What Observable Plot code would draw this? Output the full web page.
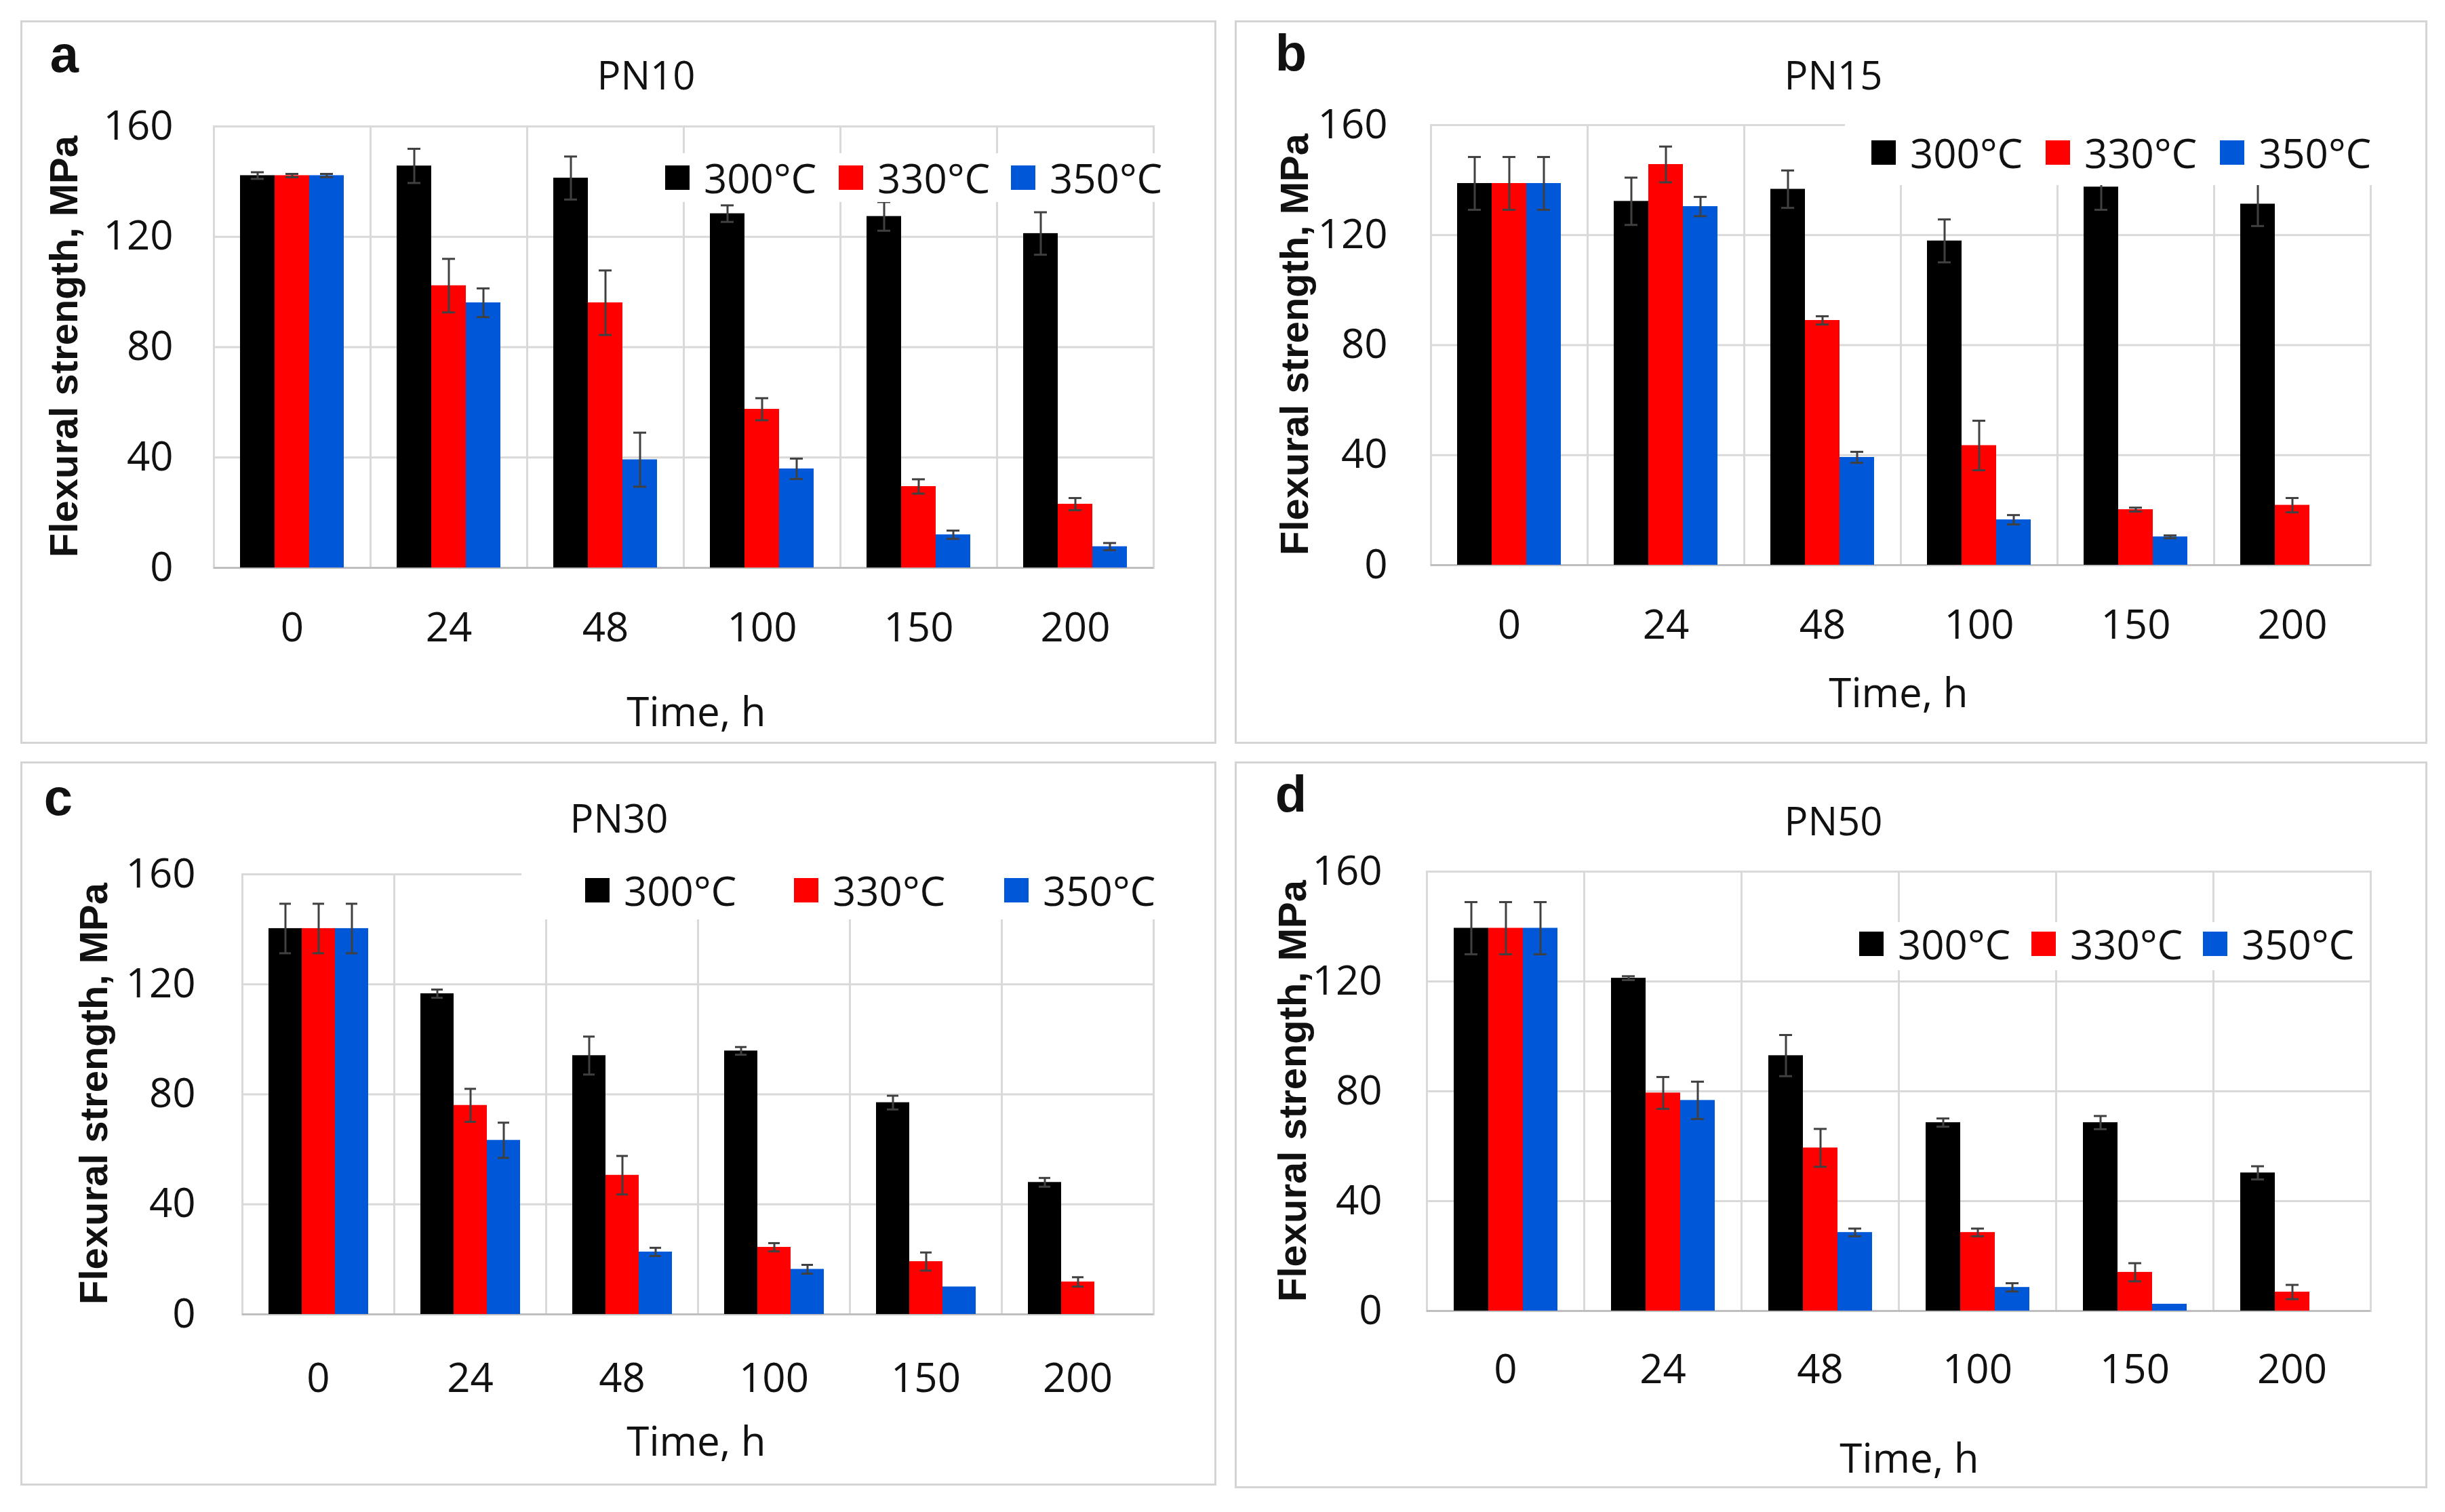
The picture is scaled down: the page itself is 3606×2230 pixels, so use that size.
<!DOCTYPE html>
<html>
<head>
<meta charset="utf-8">
<script src="https://cdn.jsdelivr.net/npm/d3@7"></script>
<script src="https://cdn.jsdelivr.net/npm/@observablehq/plot@0.6"></script>
<style>
  body { margin: 0; background: #fff; }
  #root { position: relative; width: 3606px; height: 2230px; background: #fff; overflow: hidden;
          font-family: "Open Sans", sans-serif; color: #111; }
  .panel { position: absolute; border: 3px solid #d4d4d4; box-sizing: border-box; }
  .abs { position: absolute; white-space: nowrap; line-height: 1; }
  .ctr { transform: translate(-50%, -50%); }
  .letter { font-family: "Liberation Sans", Arial, sans-serif; font-weight: bold; font-size: 76px; }
  .title { font-size: 58px; }
  .time { font-size: 60px; }
  .ylab { font-family: "Liberation Sans", Arial, sans-serif; font-weight: bold; font-size: 58px;
          transform: translate(-50%, -50%) rotate(-90deg); }
  .lgbox { position: absolute; background: #fff; }
  .sq { position: absolute; width: 36px; height: 36px; }
  .lgt { position: absolute; font-size: 60px; line-height: 1; white-space: nowrap; transform: translateY(-50%); }
  svg.plotsvg { position: absolute; max-width: none; }
</style>
</head>
<body>
<div id="root"></div>
<script>
// ---------- data ----------
const times = ["0", "24", "48", "100", "150", "200"];
const temps = ["300°C", "330°C", "350°C"];
const yTicks = [0, 40, 80, 120, 160];
const colors = ["#000000", "#ff0000", "#0058d8"];

// PN10
const pn10_300 = [142.2, 145.7, 141.3, 128.4, 127.4, 121.2];
const pn10_300_err = [1.2, 6.2, 7.8, 3.0, 5.2, 7.7];
const pn10_330 = [142.2, 102.3, 96.1, 57.5, 29.5, 23.1];
const pn10_330_err = [0.6, 9.7, 11.7, 4.0, 2.6, 2.2];
const pn10_350 = [142.2, 96.1, 39.2, 35.9, 12.0, 7.7];
const pn10_350_err = [0.6, 5.2, 9.8, 3.7, 1.5, 1.3];

// PN15
const pn15_300 = [138.8, 132.3, 136.7, 117.9, 137.5, 131.3];
const pn15_300_err = [9.6, 8.6, 6.8, 7.8, 8.3, 8.0];
const pn15_330 = [138.8, 145.7, 89.0, 43.5, 20.2, 21.8];
const pn15_330_err = [9.6, 6.5, 1.5, 9.0, 0.7, 2.6];
const pn15_350 = [138.8, 130.4, 39.2, 16.5, 10.3, null];
const pn15_350_err = [9.6, 3.5, 2.0, 1.7, 0.5, null];

// PN30
const pn30_300 = [140.3, 116.6, 94.1, 95.8, 77.0, 48.0];
const pn30_300_err = [9.0, 1.5, 6.9, 1.4, 2.5, 1.6];
const pn30_330 = [140.3, 76.0, 50.6, 24.4, 19.2, 11.8];
const pn30_330_err = [9.0, 6.0, 7.0, 1.5, 3.3, 1.7];
const pn30_350 = [140.3, 63.3, 22.7, 16.4, 10.0, null];
const pn30_350_err = [9.0, 6.4, 1.5, 1.6, 0, null];

// PN50
const pn50_300 = [139.4, 121.2, 93.0, 68.6, 68.6, 50.3];
const pn50_300_err = [9.5, 0.7, 7.5, 1.5, 2.4, 2.4];
const pn50_330 = [139.4, 79.4, 59.4, 28.6, 14.1, 6.9];
const pn50_330_err = [9.5, 5.8, 6.9, 1.4, 3.3, 2.6];
const pn50_350 = [139.4, 76.7, 28.6, 8.6, 2.5, null];
const pn50_350_err = [9.5, 6.8, 1.4, 1.5, 0, null];

// ---------- layout ----------
const panels = [
  { letter: "a", title: "PN10",
    series: [[pn10_300, pn10_300_err], [pn10_330, pn10_330_err], [pn10_350, pn10_350_err]],
    box: [30, 30, 1794, 1097], plot: [312, 186, 1703, 837],
    letterPos: [95, 80], titlePos: [953, 110], ylabPos: [94, 511], timePos: [1027, 1048],
    tickPad: 60, xPad: 66,
    legendSq: [981, 1237, 1491], legendY: 262, legendBox: [962, 226, 1722, 298] },
  { letter: "b", title: "PN15",
    series: [[pn15_300, pn15_300_err], [pn15_330, pn15_330_err], [pn15_350, pn15_350_err]],
    box: [1821, 30, 3580, 1097], plot: [2109, 184, 3497, 833],
    letterPos: [1904, 78], titlePos: [2704, 110], ylabPos: [1909, 508], timePos: [2800, 1020],
    tickPad: 64, xPad: 66,
    legendSq: [2760, 3017, 3274], legendY: 225, legendBox: [2721, 176, 3502, 273] },
  { letter: "c", title: "PN30",
    series: [[pn30_300, pn30_300_err], [pn30_330, pn30_330_err], [pn30_350, pn30_350_err]],
    box: [30, 1123, 1794, 2191], plot: [354, 1289, 1703, 1938],
    letterPos: [86, 1176], titlePos: [913, 1206], ylabPos: [138, 1613], timePos: [1027, 2124],
    tickPad: 69, xPad: 72,
    legendSq: [863, 1171, 1481], legendY: 1313, legendBox: [769, 1282, 1708, 1356] },
  { letter: "d", title: "PN50",
    series: [[pn50_300, pn50_300_err], [pn50_330, pn50_330_err], [pn50_350, pn50_350_err]],
    box: [1821, 1123, 3580, 2195], plot: [2102, 1285, 3497, 1933],
    letterPos: [1904, 1171], titlePos: [2704, 1210], ylabPos: [1906, 1609], timePos: [2816, 2149],
    tickPad: 66, xPad: 64,
    legendSq: [2742, 2996, 3249], legendY: 1392, legendBox: [2721, 1360, 3490, 1431] }
];

const root = document.getElementById("root");

function addDiv(cls, text, x, y, extraStyle) {
  const d = document.createElement("div");
  d.className = cls;
  if (text != null) d.textContent = text;
  d.style.left = x + "px";
  d.style.top = y + "px";
  if (extraStyle) Object.assign(d.style, extraStyle);
  root.appendChild(d);
  return d;
}

panels.forEach(p => {
  const [bl, bt, br, bb] = p.box;
  addDiv("panel", null, bl, bt, { width: (br - bl) + "px", height: (bb - bt) + "px" });

  const [L, T, R, B] = p.plot;
  const ml = 200, mr = 30, mt = 30, mb = 170;

  const data = [];
  p.series.forEach(([vals, errs], k) => {
    vals.forEach((v, i) => {
      if (v != null) data.push({ time: times[i], temp: temps[k], v, e: errs[i] || 0 });
    });
  });
  const errData = data.filter(d => d.e > 0);

  const svg = Plot.plot({
    width: R - L + ml + mr,
    height: B - T + mt + mb,
    marginLeft: ml, marginRight: mr, marginTop: mt, marginBottom: mb,
    style: { fontFamily: '"Open Sans", sans-serif', fontSize: "60px", color: "#111",
             background: "transparent", overflow: "visible" },
    fx: { domain: times, padding: 0, label: null, tickSize: 0, tickPadding: p.xPad, axis: "bottom" },
    x: { domain: temps, paddingInner: 0, paddingOuter: 0.75, axis: null },
    y: { domain: [0, 160], ticks: yTicks, label: null, tickSize: 0, tickPadding: p.tickPad },
    color: { domain: temps, range: colors },
    marks: [
      Plot.ruleY(yTicks, { stroke: "#d9d9d9", strokeWidth: 3 }),
      Plot.frame({ stroke: "#d9d9d9", strokeWidth: 3 }),
      Plot.ruleY([0], { stroke: "#bfbfbf", strokeWidth: 3 }),
      Plot.barY(data, { fx: "time", x: "temp", y: "v", fill: "temp" }),
      Plot.ruleX(errData, { fx: "time", x: "temp", y1: d => d.v - d.e, y2: d => d.v + d.e,
                            stroke: "#404040", strokeWidth: 3 }),
      Plot.tickY(errData, { fx: "time", x: "temp", y: d => d.v + d.e, stroke: "#404040",
                            strokeWidth: 3, insetLeft: 16, insetRight: 16 }),
      Plot.tickY(errData, { fx: "time", x: "temp", y: d => d.v - d.e, stroke: "#404040",
                            strokeWidth: 3, insetLeft: 16, insetRight: 16 })
    ]
  });
  svg.classList.add("plotsvg");
  svg.style.left = (L - ml) + "px";
  svg.style.top = (T - mt) + "px";
  svg.style.maxWidth = "none";
  root.appendChild(svg);

  // legend (overlaid on the plot area, white background)
  const [lx0, ly0, lx1, ly1] = p.legendBox;
  addDiv("lgbox", null, lx0, ly0, { width: (lx1 - lx0) + "px", height: (ly1 - ly0) + "px" });
  temps.forEach((t, k) => {
    addDiv("sq", null, p.legendSq[k], p.legendY - 18, { background: colors[k] });
    addDiv("lgt", t, p.legendSq[k] + 57, p.legendY);
  });

  addDiv("abs ctr letter", p.letter, p.letterPos[0], p.letterPos[1]);
  addDiv("abs ctr title", p.title, p.titlePos[0], p.titlePos[1]);
  addDiv("abs ylab", "Flexural strength, MPa", p.ylabPos[0], p.ylabPos[1]);
  addDiv("abs ctr time", "Time, h", p.timePos[0], p.timePos[1]);
});
</script>
</body>
</html>
